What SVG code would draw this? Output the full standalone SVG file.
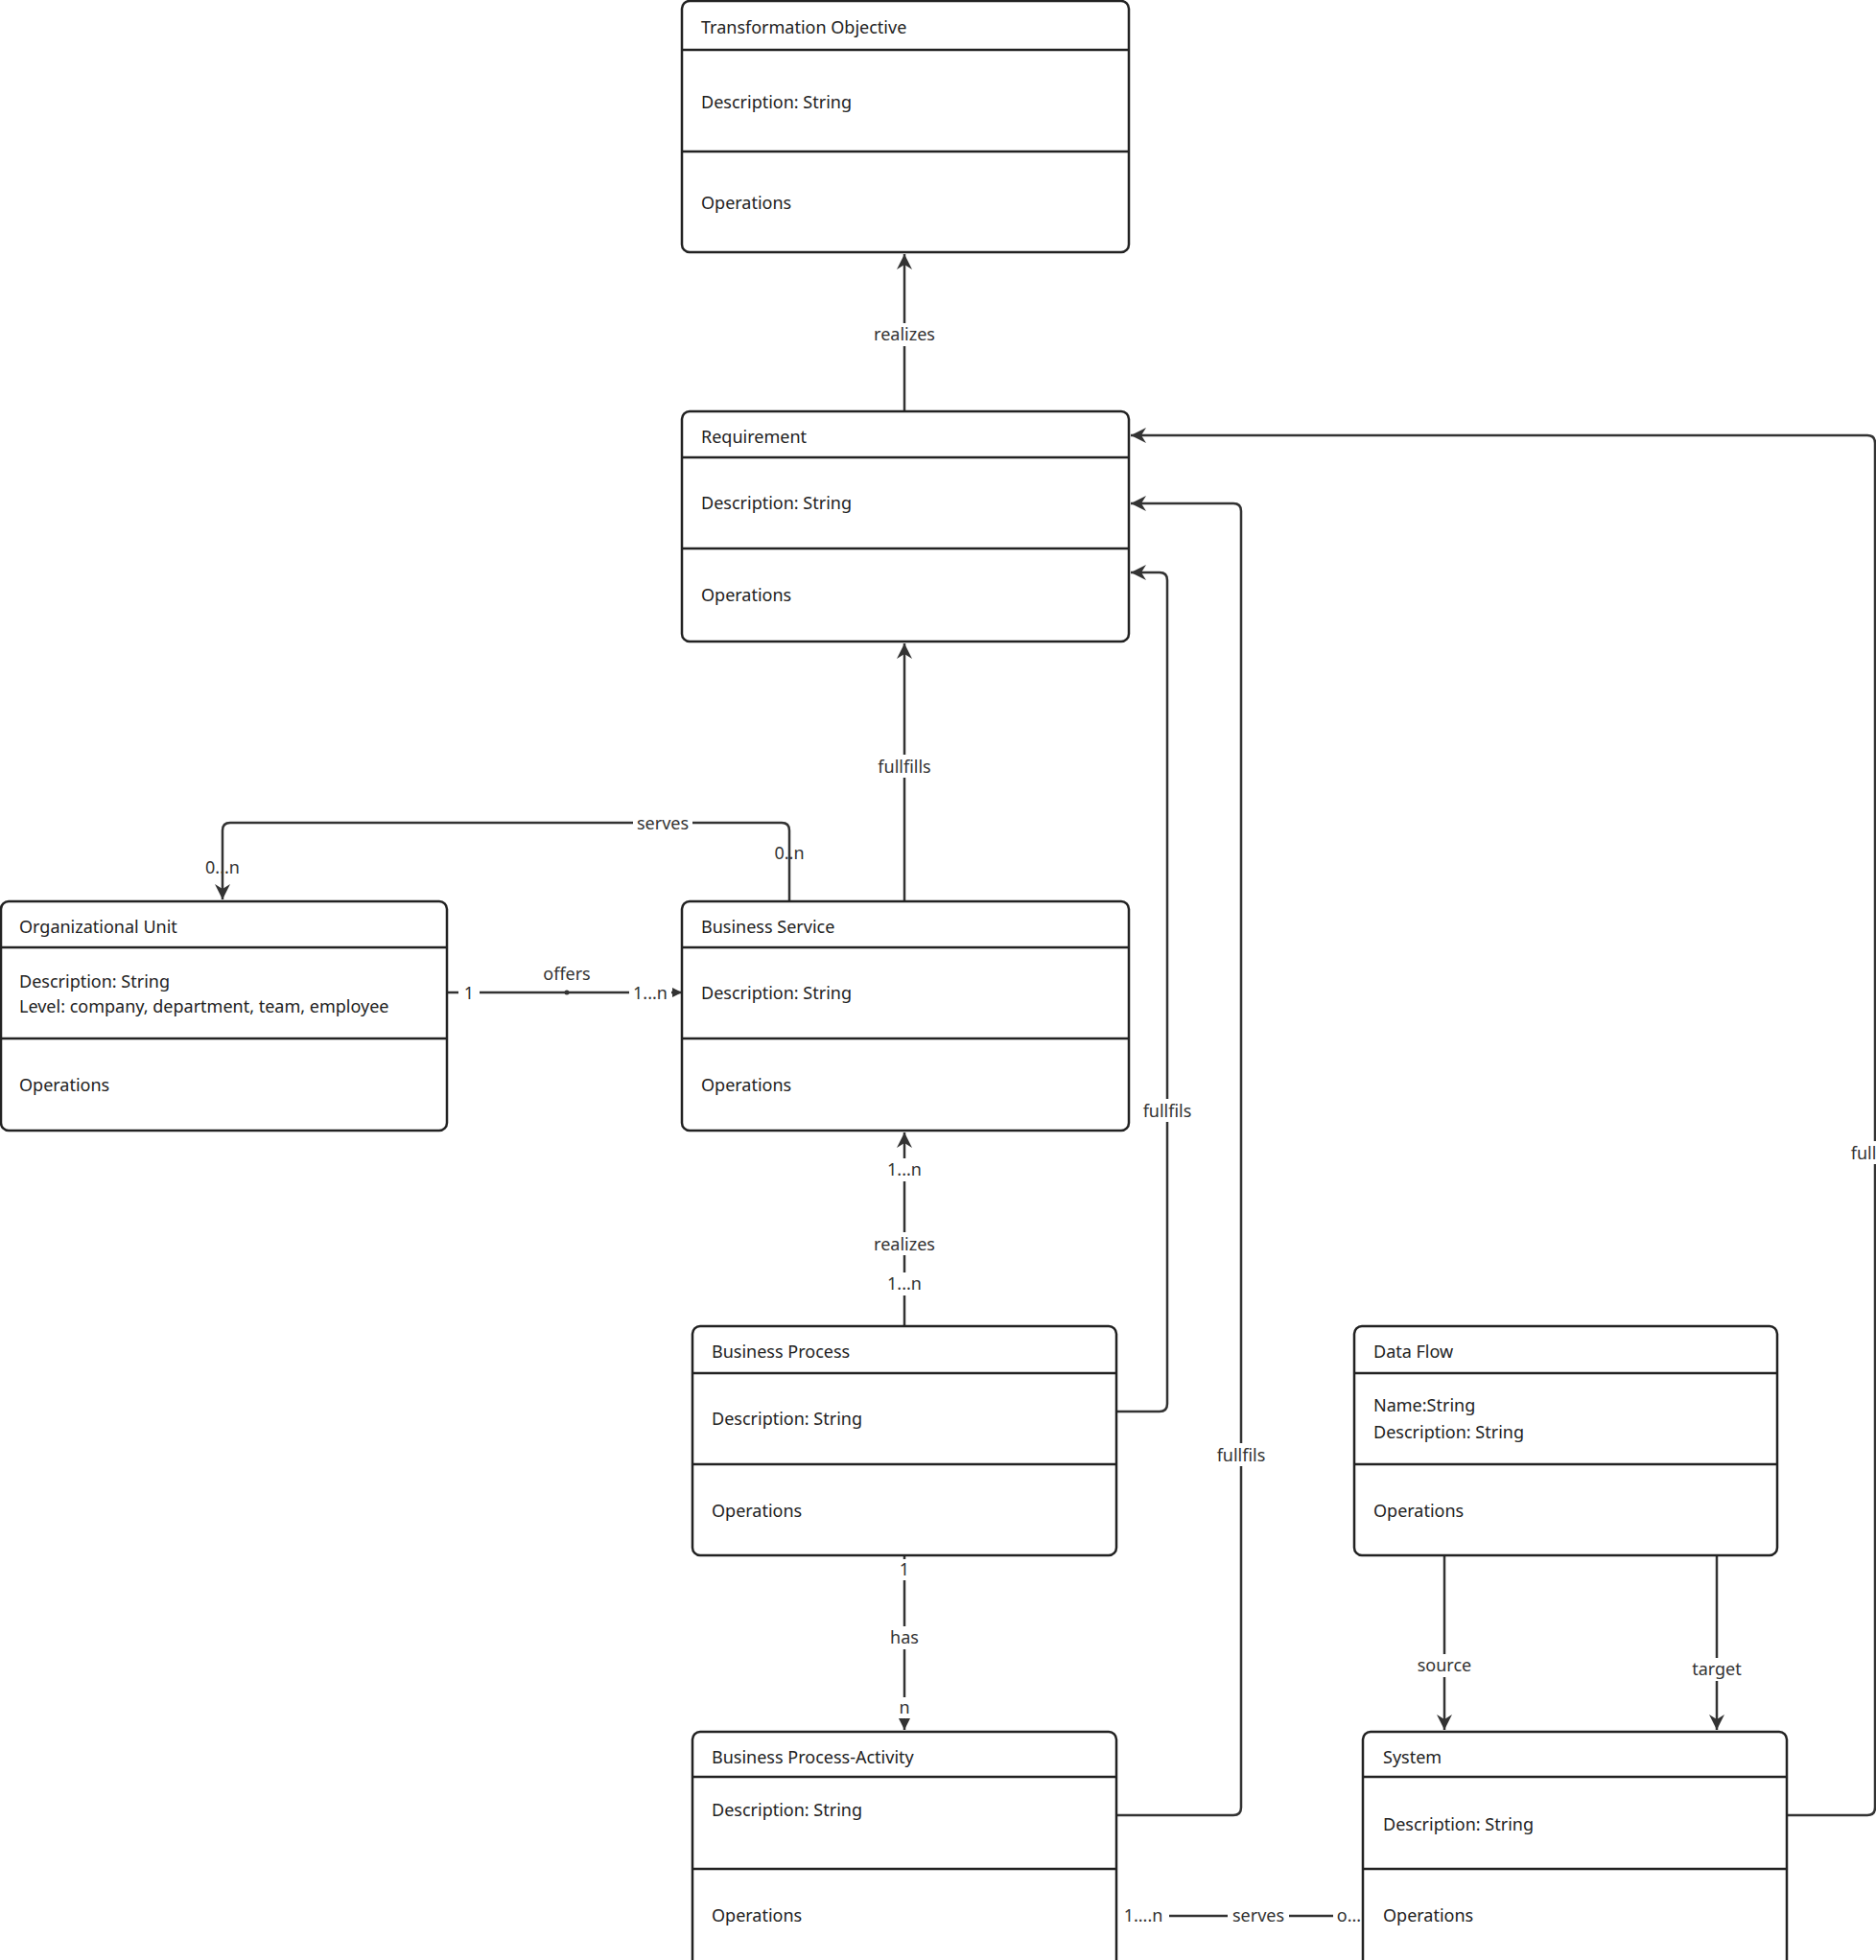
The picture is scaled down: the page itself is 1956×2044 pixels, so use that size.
<svg xmlns="http://www.w3.org/2000/svg" width="1956" height="2044" viewBox="0 0 1956 2044">
<style>
.box{fill:#fff;stroke:#222;stroke-width:2.5}
.ln{stroke:#222;stroke-width:2.5}
.t{font-family:"Noto Sans",sans-serif;font-size:18px;fill:#222}
.c{fill:none;stroke:#333;stroke-width:2.5}
.lb{font-family:"Noto Sans",sans-serif;font-size:18px;fill:#333;text-anchor:middle}
.bg{fill:#fff}
</style>
<defs>
<marker id="a" viewBox="0 0 20 20" refX="18" refY="10" markerWidth="20" markerHeight="20" markerUnits="userSpaceOnUse" orient="auto">
<path d="M2,2 L18,10 L2,18 L7,10 Z" fill="#333"/>
</marker>
<marker id="s" viewBox="0 0 12 12" refX="11" refY="6" markerWidth="12" markerHeight="12" markerUnits="userSpaceOnUse" orient="auto">
<path d="M1,1 L11,6 L1,11 Z" fill="#333"/>
</marker>
</defs>
<g id="connectors">
<path class="c" d="M943,429 V265" marker-end="url(#a)"/>
<rect class="bg" x="905" y="337" width="76" height="24"/><text class="lb" x="943" y="355">realizes</text>
<path class="c" d="M943,940 V671" marker-end="url(#a)"/>
<rect class="bg" x="910" y="787" width="66" height="24"/><text class="lb" x="943" y="806">fullfills</text>
<path class="c" d="M823,940 V866 Q823,858 815,858 H240 Q232,858 232,866 V938" marker-end="url(#a)"/>
<rect class="bg" x="660" y="846" width="62" height="24"/><text class="lb" x="691" y="865">serves</text>
<text class="lb" x="823" y="896">0..n</text>
<text class="lb" x="232" y="911">0...n</text>
<path class="c" d="M466,1035 H711" marker-end="url(#s)"/>
<rect class="bg" x="478" y="1024" width="22" height="22"/><text class="lb" x="489" y="1042">1</text>
<rect class="bg" x="656" y="1024" width="44" height="22"/><text class="lb" x="678" y="1042">1...n</text>
<circle cx="591" cy="1035" r="2.5" fill="#333"/>
<text class="lb" x="591" y="1022">offers</text>
<path class="c" d="M943,1383 V1181" marker-end="url(#a)"/>
<rect class="bg" x="918" y="1208" width="50" height="24"/><text class="lb" x="943" y="1226">1...n</text>
<rect class="bg" x="905" y="1285" width="76" height="24"/><text class="lb" x="943" y="1304">realizes</text>
<rect class="bg" x="918" y="1327" width="50" height="24"/><text class="lb" x="943" y="1345">1...n</text>
<path class="c" d="M1164,1472 H1209 Q1217,1472 1217,1464 V605 Q1217,597 1209,597 H1179" marker-end="url(#a)"/>
<rect class="bg" x="1187" y="1146" width="60" height="24"/><text class="lb" x="1217" y="1165">fullfils</text>
<path class="c" d="M1164,1893 H1286 Q1294,1893 1294,1885 V533 Q1294,525 1286,525 H1179" marker-end="url(#a)"/>
<rect class="bg" x="1264" y="1505" width="60" height="24"/><text class="lb" x="1294" y="1524">fullfils</text>
<path class="c" d="M1863,1893 H1947 Q1955,1893 1955,1885 V462 Q1955,454 1947,454 H1179" marker-end="url(#a)"/>
<rect class="bg" x="1925" y="1190" width="31" height="24"/><text class="lb" x="1943" y="1209">full</text>
<path class="c" d="M943,1622 V1804" marker-end="url(#a)"/>
<rect class="bg" x="933" y="1626" width="20" height="22"/><text class="lb" x="943" y="1643">1</text>
<rect class="bg" x="925" y="1696" width="36" height="24"/><text class="lb" x="943" y="1714">has</text>
<rect class="bg" x="933" y="1770" width="20" height="22"/><text class="lb" x="943" y="1787">n</text>
<path class="c" d="M1506,1622 V1804" marker-end="url(#a)"/>
<rect class="bg" x="1474" y="1725" width="64" height="24"/><text class="lb" x="1506" y="1743">source</text>
<path class="c" d="M1790,1622 V1804" marker-end="url(#a)"/>
<rect class="bg" x="1760" y="1729" width="60" height="24"/><text class="lb" x="1790" y="1747">target</text>
<path class="c" d="M1219,1998 H1280 M1344,1998 H1390"/>
<text class="lb" x="1192" y="2004">1....n</text>
<text class="lb" x="1312" y="2004">serves</text>
<text class="lb" x="1412" y="2004">o...n</text>
</g>
<g id="transformation-objective">
<rect class="box" x="711" y="1" width="466" height="262" rx="8"/>
<path class="ln" d="M711,52 H1177 M711,158 H1177"/>
<text class="t" x="731" y="35">Transformation Objective</text>
<text class="t" x="731" y="113">Description: String</text>
<text class="t" x="731" y="218">Operations</text>
</g>
<g id="requirement">
<rect class="box" x="711" y="429" width="466" height="240" rx="8"/>
<path class="ln" d="M711,477 H1177 M711,572 H1177"/>
<text class="t" x="731" y="462">Requirement</text>
<text class="t" x="731" y="531">Description: String</text>
<text class="t" x="731" y="627">Operations</text>
</g>
<g id="business-service">
<rect class="box" x="711" y="940" width="466" height="239" rx="8"/>
<path class="ln" d="M711,988 H1177 M711,1083 H1177"/>
<text class="t" x="731" y="973">Business Service</text>
<text class="t" x="731" y="1042">Description: String</text>
<text class="t" x="731" y="1138">Operations</text>
</g>
<g id="organizational-unit">
<rect class="box" x="1" y="940" width="465" height="239" rx="8"/>
<path class="ln" d="M1,988 H466 M1,1083 H466"/>
<text class="t" x="20" y="973">Organizational Unit</text>
<text class="t" x="20" y="1030">Description: String</text>
<text class="t" x="20" y="1056">Level: company, department, team, employee</text>
<text class="t" x="20" y="1138">Operations</text>
</g>
<g id="business-process">
<rect class="box" x="722" y="1383" width="442" height="239" rx="8"/>
<path class="ln" d="M722,1432 H1164 M722,1527 H1164"/>
<text class="t" x="742" y="1416">Business Process</text>
<text class="t" x="742" y="1486">Description: String</text>
<text class="t" x="742" y="1582">Operations</text>
</g>
<g id="business-process-activity">
<rect class="box" x="722" y="1806" width="442" height="250" rx="8"/>
<path class="ln" d="M722,1853 H1164 M722,1949 H1164"/>
<text class="t" x="742" y="1839">Business Process-Activity</text>
<text class="t" x="742" y="1894">Description: String</text>
<text class="t" x="742" y="2004">Operations</text>
</g>
<g id="data-flow">
<rect class="box" x="1412" y="1383" width="441" height="239" rx="8"/>
<path class="ln" d="M1412,1432 H1853 M1412,1527 H1853"/>
<text class="t" x="1432" y="1416">Data Flow</text>
<text class="t" x="1432" y="1472">Name:String</text>
<text class="t" x="1432" y="1500">Description: String</text>
<text class="t" x="1432" y="1582">Operations</text>
</g>
<g id="system">
<rect class="box" x="1421" y="1806" width="442" height="250" rx="8"/>
<path class="ln" d="M1421,1853 H1863 M1421,1949 H1863"/>
<text class="t" x="1442" y="1839">System</text>
<text class="t" x="1442" y="1909">Description: String</text>
<text class="t" x="1442" y="2004">Operations</text>
</g>
</svg>
